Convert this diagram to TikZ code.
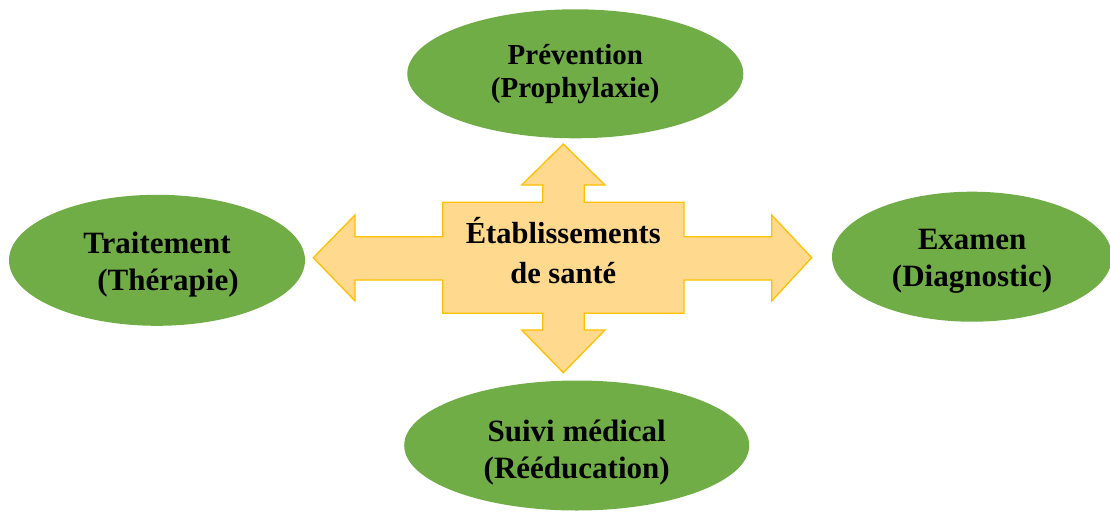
\documentclass[tikz,border=0pt]{standalone}
\usepackage{fontspec}
\setmainfont{Liberation Serif}
\usetikzlibrary{shapes.geometric}
\definecolor{leafgreen}{HTML}{70AD47}
\definecolor{crossfill}{HTML}{FFD98E}
\definecolor{crossline}{HTML}{FFC000}
\newcommand{\pushdown}[1]{\rule{0pt}{#1}}
\tikzset{
  bubble/.style={ellipse, fill=leafgreen, draw=none, inner sep=0pt, align=center,
    font=\bfseries\fontsize{31}{36.7}\selectfont, text=black},
  crosstext/.style={align=center, inner sep=0pt,
    font=\bfseries\fontsize{30.5}{40}\selectfont, text=black}
}
\begin{document}
\begin{tikzpicture}[x=1pt,y=-1pt]
\useasboundingbox (0,0) rectangle (1110,511);
% ellipses
\node[bubble, minimum width=336pt, minimum height=129pt,
  font=\bfseries\fontsize{29}{32.7}\selectfont] (prev) at (575.3,73.8)
  {Prévention\\(Prophylaxie)};
\node[bubble, minimum width=296pt, minimum height=131pt] (trait) at (157,260.3)
  {\pushdown{30pt}Traitement\\\hspace*{22pt}(Thérapie)};
\node[bubble, minimum width=280pt, minimum height=130pt] (exam) at (972,256.7)
  {\pushdown{30pt}Examen\\(Diagnostic)};
\node[bubble, minimum width=345pt, minimum height=130pt] (suivi) at (576.7,445.5)
  {\pushdown{36pt}Suivi médical\\(Rééducation)};
% cross with four arrows
\draw[fill=crossfill, draw=crossline, line width=1.3pt, line join=miter]
  (563.3,144) -- (605,185) -- (584.3,185) -- (584.3,202.3) -- (684,202.3)
  -- (684,236.7) -- (771.7,236.7) -- (771.7,215) -- (811.7,257.7)
  -- (771.7,301) -- (771.7,280) -- (684,280) -- (684,313.3)
  -- (584.3,313.3) -- (584.3,330) -- (605,330) -- (563.3,372.7)
  -- (521.7,330) -- (542.7,330) -- (542.7,313.3) -- (442.7,313.3)
  -- (442.7,280) -- (355,280) -- (355,301) -- (313.3,257.7)
  -- (355,215) -- (355,236.7) -- (442.7,236.7) -- (442.7,202.3)
  -- (542.7,202.3) -- (542.7,185) -- (521.7,185) -- cycle;
\node[crosstext] (centre) at (563.3,250.5) {Établissements\\de santé};
\end{tikzpicture}
\end{document}
